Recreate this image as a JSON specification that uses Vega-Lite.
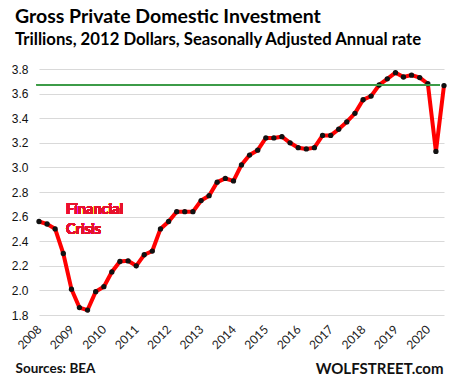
{
  "$schema": "https://vega.github.io/schema/vega-lite/v6.json",
  "width": 405,
  "height": 246,
  "autosize": {"type": "none"},
  "padding": {"left": 39, "top": 69, "right": 17, "bottom": 73},
  "background": "white",
  "title": {
    "text": "Gross Private Domestic Investment",
    "subtitle": "Trillions, 2012 Dollars, Seasonally Adjusted Annual rate",
    "anchor": "start",
    "frame": "group",
    "dx": -24,
    "offset": 13,
    "font": "Lato",
    "fontSize": 19.5,
    "fontWeight": "bold",
    "color": "black",
    "subtitleFont": "Lato",
    "subtitleFontSize": 16.7,
    "subtitleFontWeight": "bold",
    "subtitleColor": "black",
    "subtitlePadding": 5
  },
  "config": {
    "view": {"stroke": null},
    "axisX": {
      "format": "%Y",
      "formatType": "utc",
      "labelAngle": -45,
      "labelAlign": "right",
      "labelBaseline": "middle",
      "labelPadding": 12,
      "labelFont": "Lato",
      "labelFontSize": 12,
      "labelColor": "#222222",
      "labelFlush": false,
      "labelOverlap": false,
      "grid": false,
      "ticks": false,
      "domain": false,
      "titleFont": "Lato",
      "titleFontSize": 13.5,
      "titleFontWeight": "bold",
      "titleColor": "#111111",
      "titleAnchor": "start",
      "titleAlign": "left",
      "titleBaseline": "alphabetic",
      "titleX": -24,
      "titleY": 57
    }
  },
  "data": {
    "values": [
      {"date": "2008-01-01", "value": 2.56},
      {"date": "2008-04-01", "value": 2.54},
      {"date": "2008-07-01", "value": 2.50},
      {"date": "2008-10-01", "value": 2.30},
      {"date": "2009-01-01", "value": 2.01},
      {"date": "2009-04-01", "value": 1.86},
      {"date": "2009-07-01", "value": 1.84},
      {"date": "2009-10-01", "value": 1.99},
      {"date": "2010-01-01", "value": 2.03},
      {"date": "2010-04-01", "value": 2.15},
      {"date": "2010-07-01", "value": 2.235},
      {"date": "2010-10-01", "value": 2.24},
      {"date": "2011-01-01", "value": 2.20},
      {"date": "2011-04-01", "value": 2.29},
      {"date": "2011-07-01", "value": 2.32},
      {"date": "2011-10-01", "value": 2.50},
      {"date": "2012-01-01", "value": 2.56},
      {"date": "2012-04-01", "value": 2.64},
      {"date": "2012-07-01", "value": 2.64},
      {"date": "2012-10-01", "value": 2.64},
      {"date": "2013-01-01", "value": 2.73},
      {"date": "2013-04-01", "value": 2.77},
      {"date": "2013-07-01", "value": 2.88},
      {"date": "2013-10-01", "value": 2.91},
      {"date": "2014-01-01", "value": 2.89},
      {"date": "2014-04-01", "value": 3.02},
      {"date": "2014-07-01", "value": 3.10},
      {"date": "2014-10-01", "value": 3.14},
      {"date": "2015-01-01", "value": 3.24},
      {"date": "2015-04-01", "value": 3.24},
      {"date": "2015-07-01", "value": 3.25},
      {"date": "2015-10-01", "value": 3.20},
      {"date": "2016-01-01", "value": 3.16},
      {"date": "2016-04-01", "value": 3.15},
      {"date": "2016-07-01", "value": 3.16},
      {"date": "2016-10-01", "value": 3.26},
      {"date": "2017-01-01", "value": 3.26},
      {"date": "2017-04-01", "value": 3.31},
      {"date": "2017-07-01", "value": 3.37},
      {"date": "2017-10-01", "value": 3.44},
      {"date": "2018-01-01", "value": 3.55},
      {"date": "2018-04-01", "value": 3.58},
      {"date": "2018-07-01", "value": 3.67},
      {"date": "2018-10-01", "value": 3.72},
      {"date": "2019-01-01", "value": 3.77},
      {"date": "2019-04-01", "value": 3.735},
      {"date": "2019-07-01", "value": 3.75},
      {"date": "2019-10-01", "value": 3.73},
      {"date": "2020-01-01", "value": 3.68},
      {"date": "2020-04-01", "value": 3.13},
      {"date": "2020-07-01", "value": 3.665}
    ]
  },
  "resolve": {"axis": {"y": "independent"}},
  "layer": [
    {
      "mark": {
        "type": "line",
        "color": "#ff0000",
        "strokeWidth": 4,
        "point": {"filled": true, "color": "#111111", "size": 28, "shape": "circle"}
      },
      "encoding": {
        "x": {
          "field": "date",
          "type": "temporal",
          "scale": {"type": "utc", "domain": ["2008-01-01", "2020-07-01"]},
          "axis": {
            "values": [
              {"year": 2008, "utc": true}, {"year": 2009, "utc": true}, {"year": 2010, "utc": true},
              {"year": 2011, "utc": true}, {"year": 2012, "utc": true}, {"year": 2013, "utc": true},
              {"year": 2014, "utc": true}, {"year": 2015, "utc": true}, {"year": 2016, "utc": true},
              {"year": 2017, "utc": true}, {"year": 2018, "utc": true}, {"year": 2019, "utc": true},
              {"year": 2020, "utc": true}
            ],
            "labelOverlap": false,
            "labelAngle": -45,
            "title": "Sources: BEA"
          }
        },
        "y": {
          "field": "value",
          "type": "quantitative",
          "scale": {"domain": [1.8, 3.8], "nice": false, "zero": false},
          "axis": {
            "values": [1.8, 2.0, 2.2, 2.4, 2.6, 2.8, 3.0, 3.2, 3.4, 3.6, 3.8],
            "format": ".1f",
            "labelFont": "Liberation Sans",
            "labelFontSize": 12,
            "labelColor": "#111111",
            "labelPadding": 11,
            "gridColor": "#d9d9d9",
            "gridWidth": 1,
            "ticks": false,
            "domain": false,
            "title": null
          }
        }
      }
    },
    {
      "mark": {"type": "rule", "color": "#3d9b47", "strokeWidth": 1.2},
      "encoding": {
        "x": {
          "datum": {"year": 2007, "month": 12, "date": 8, "utc": true},
          "type": "temporal",
          "axis": {
            "values": [
              {"year": 2008, "utc": true}, {"year": 2009, "utc": true}, {"year": 2010, "utc": true},
              {"year": 2011, "utc": true}, {"year": 2012, "utc": true}, {"year": 2013, "utc": true},
              {"year": 2014, "utc": true}, {"year": 2015, "utc": true}, {"year": 2016, "utc": true},
              {"year": 2017, "utc": true}, {"year": 2018, "utc": true}, {"year": 2019, "utc": true},
              {"year": 2020, "utc": true}
            ],
            "labelOverlap": false,
            "labelAngle": -45,
            "title": "Sources: BEA"
          }
        },
        "x2": {"datum": {"year": 2020, "month": 5, "date": 10, "utc": true}},
        "y": {
          "datum": 3.673,
          "type": "quantitative",
          "axis": {
            "orient": "right",
            "labels": false,
            "ticks": false,
            "domain": false,
            "grid": false,
            "title": "WOLFSTREET.com",
            "titleAngle": 0,
            "titleFont": "Lato",
            "titleFontSize": 15,
            "titleFontWeight": "bold",
            "titleColor": "#111111",
            "titleAlign": "right",
            "titleBaseline": "alphabetic",
            "titleX": -1,
            "titleY": 304
          }
        }
      }
    },
    {
      "mark": {
        "type": "text",
        "text": ["Financial", "Crisis"],
        "color": "#e8112d",
        "font": "Lato",
        "fontSize": 14.5,
        "fontWeight": "bold",
        "align": "left",
        "baseline": "alphabetic",
        "lineHeight": 20
      },
      "encoding": {
        "x": {
          "datum": {"year": 2008, "month": 10, "date": 31, "utc": true},
          "type": "temporal",
          "axis": {
            "values": [
              {"year": 2008, "utc": true}, {"year": 2009, "utc": true}, {"year": 2010, "utc": true},
              {"year": 2011, "utc": true}, {"year": 2012, "utc": true}, {"year": 2013, "utc": true},
              {"year": 2014, "utc": true}, {"year": 2015, "utc": true}, {"year": 2016, "utc": true},
              {"year": 2017, "utc": true}, {"year": 2018, "utc": true}, {"year": 2019, "utc": true},
              {"year": 2020, "utc": true}
            ],
            "labelOverlap": false,
            "labelAngle": -45,
            "title": "Sources: BEA"
          }
        },
        "y": {"datum": 2.62, "type": "quantitative", "axis": null}
      }
    }
  ]
}
